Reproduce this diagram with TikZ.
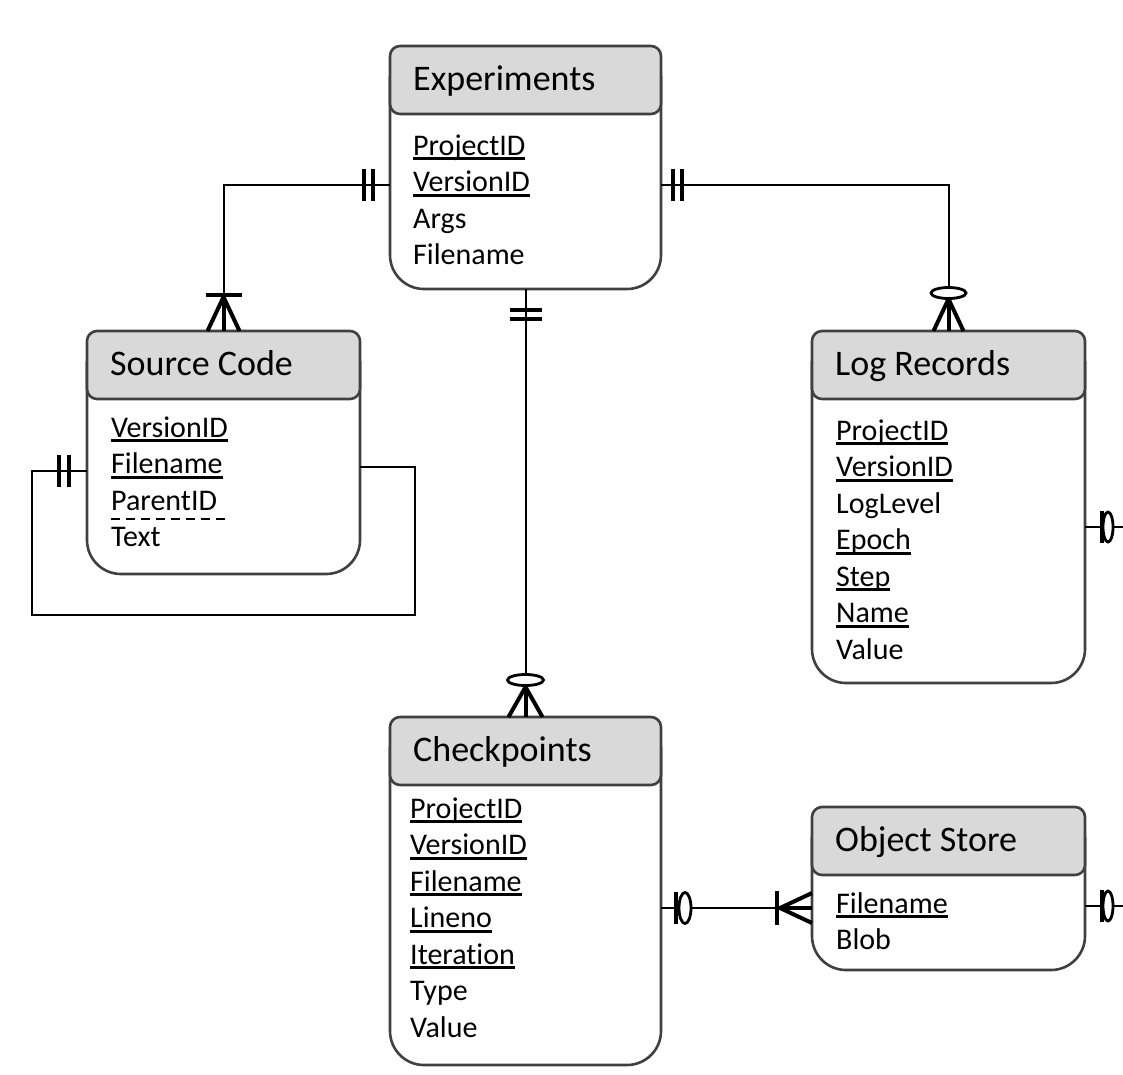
\documentclass[tikz,border=0pt]{standalone}
\usepackage{fontspec}
\setmainfont{Carlito}[Ligatures=NoCommon]
\usepackage{xcolor}
\usetikzlibrary{calc}

\definecolor{edgegray}{HTML}{404040}
\definecolor{headgray}{HTML}{D9D9D9}

\tikzset{
	box/.style={anchor=north west, inner sep=0pt, outer sep=0pt},
	outline/.style={draw=edgegray, line width=2.6pt},
	header/.style={box, outline, fill=headgray, rounded corners=10pt, minimum height=68pt},
	title/.style={anchor=base west, inner sep=0pt, font=\fontsize{36}{43}\selectfont},
	attr/.style={anchor=base west, inner sep=0pt, font=\fontsize{30}{36}\selectfont},
	link/.style={line width=2pt},
	notation/.style={line width=4pt},
	ring/.style={line width=2.8pt, fill=white}
}

% primary key underline
\newsavebox{\pkbox}
\newcommand{\pk}[1]{\sbox{\pkbox}{#1}\rlap{\rule[-5pt]{\wd\pkbox}{2.7pt}}\usebox{\pkbox}}

% name, top left, width, height, title
\newcommand{\entity}[5]{
	\node[box, minimum width=#3, minimum height=#4] (#1) at (#2) {};
	\draw[outline, rounded corners=34pt] ($(#1.north west)+(0,30)$) -- (#1.south west)
		-- (#1.south east) -- ($(#1.north east)+(0,30)$);
	\node[header, minimum width=#3] (#1-head) at (#1.north west) {};
	\node[title] (#1-title) at ($(#1.north west)+(23,44)$) {#5};
}
% name, dx, dy of first baseline, attribute list
\newcommand{\attrs}[4]{
	\foreach \a [count=\i from 0] in {#4}
		\node[attr] (#1-\i) at ($(#1.north west)+(#2,#3+36.5*\i)$) {\a};
}

\begin{document}
\begin{tikzpicture}[x=1pt, y=-1pt]
	\useasboundingbox (0,0) rectangle (1123,1074);

	% tables
	\entity{exp}{390,46}{271pt}{243pt}{Experiments}
	\attrs{exp}{23}{109}{\pk{ProjectID}, \pk{VersionID}, Args, Filename}

	\entity{src}{87,331}{273pt}{243pt}{Source Code}
	\attrs{src}{24}{106}{\pk{VersionID}, \pk{Filename}, ParentID, Text}
	\draw[line width=2.7pt, dash pattern=on 9pt off 6pt] ($(src.north west)+(24,188)$) -- ($(src.north west)+(138,188)$);

	\entity{log}{812,331}{273pt}{352pt}{Log Records}
	\attrs{log}{24}{109}{\pk{ProjectID}, \pk{VersionID}, LogLevel, \pk{Epoch}, \pk{Step}, \pk{Name}, Value}

	\entity{chk}{390,717}{271pt}{348pt}{Checkpoints}
	\attrs{chk}{20}{101}{\pk{ProjectID}, \pk{VersionID}, \pk{Filename}, \pk{Lineno}, \pk{Iteration}, Type, Value}

	\entity{obj}{812,807}{273pt}{163pt}{Object Store}
	\attrs{obj}{24}{106}{\pk{Filename}, Blob}

	% attachment points
	\coordinate (c1a) at ($(exp.north west)+(0,139)$);
	\coordinate (c1b) at (src.north);
	\coordinate (c2a) at ($(exp.north east)+(0,139)$);
	\coordinate (c2b) at (log.north);
	\coordinate (c3a) at (exp.south);
	\coordinate (c3b) at (chk.north);
	\coordinate (c4a) at ($(src.north east)+(0,136)$);
	\coordinate (c4b) at ($(src.north west)+(0,140)$);
	\coordinate (c5a) at ($(chk.north east)+(0,191)$);
	\coordinate (c5b) at (c5a -| obj.west);
	\coordinate (c6a) at ($(log.north east)+(0,196)$);
	\coordinate (c6b) at ($(c6a)+(38,0)$);
	\coordinate (c7a) at ($(obj.north east)+(0,99)$);
	\coordinate (c7b) at ($(c7a)+(38,0)$);

	% relationships
	\draw[link] (c1a) -| (c1b);
	\draw[link] (c2a) -| (c2b);
	\draw[link] (c3a) -- (c3b);
	\draw[link] (c4a) -- ++(55,0) -- ++(0,148) -| ($(c4b)+(-55,0)$) -- (c4b);
	\draw[link] (c5a) -- (c5b);
	\draw[link] (c6a) -- (c6b);
	\draw[link] (c7a) -- (c7b);

	% Experiments -- Source Code
	\draw[notation] ($(c1a)+(-17,0)$) +(0,-16) -- +(0,16);
	\draw[notation] ($(c1a)+(-26,0)$) +(0,-16) -- +(0,16);
	\draw[notation] ($(c1b)+(0,-36)$) +(-18,0) -- +(18,0);
	\draw[notation] ($(c1b)+(-16,0)$) -- ($(c1b)+(0,-34)$) -- ($(c1b)+(16,0)$);
	\draw[notation] ($(c1b)+(0,-34)$) -- (c1b);

	% Experiments -- Log Records
	\draw[notation] ($(c2a)+(12,0)$) +(0,-16) -- +(0,16);
	\draw[notation] ($(c2a)+(21,0)$) +(0,-16) -- +(0,16);
	\draw[notation] ($(c2b)+(-15,0)$) -- ($(c2b)+(0,-32)$) -- ($(c2b)+(15,0)$);
	\draw[notation] ($(c2b)+(0,-32)$) -- (c2b);
	\draw[ring] ($(c2b)+(0,-38)$) ellipse [x radius=17.5, y radius=5.5];

	% Experiments -- Checkpoints
	\draw[notation] ($(c3a)+(0,21)$) +(-16,0) -- +(16,0);
	\draw[notation] ($(c3a)+(0,30)$) +(-16,0) -- +(16,0);
	\draw[notation] ($(c3b)+(-17,0)$) -- ($(c3b)+(0,-30)$) -- ($(c3b)+(17,0)$);
	\draw[notation] ($(c3b)+(0,-30)$) -- (c3b);
	\draw[ring] ($(c3b)+(0,-37)$) ellipse [x radius=18, y radius=5.5];

	% Source Code parent
	\draw[notation] ($(c4b)+(-18,0)$) +(0,-16) -- +(0,16);
	\draw[notation] ($(c4b)+(-28,0)$) +(0,-16) -- +(0,16);

	% Checkpoints -- Object Store
	\draw[notation] ($(c5a)+(15,0)$) +(0,-16) -- +(0,16);
	\draw[ring] ($(c5a)+(24,0)$) ellipse [x radius=6, y radius=15.5];
	\draw[notation] ($(c5b)+(-35,0)$) +(0,-17) -- +(0,17);
	\draw[notation] ($(c5b)+(0,-15)$) -- ($(c5b)+(-32,0)$) -- ($(c5b)+(0,15)$);
	\draw[notation] ($(c5b)+(-32,0)$) -- (c5b);

	% outgoing
	\draw[notation] ($(c6a)+(17,0)$) +(0,-16) -- +(0,16);
	\draw[ring] ($(c6a)+(23,0)$) ellipse [x radius=5, y radius=15];
	\draw[notation] ($(c7a)+(17,0)$) +(0,-16) -- +(0,16);
	\draw[ring] ($(c7a)+(23,0)$) ellipse [x radius=5, y radius=15];
\end{tikzpicture}
\end{document}
